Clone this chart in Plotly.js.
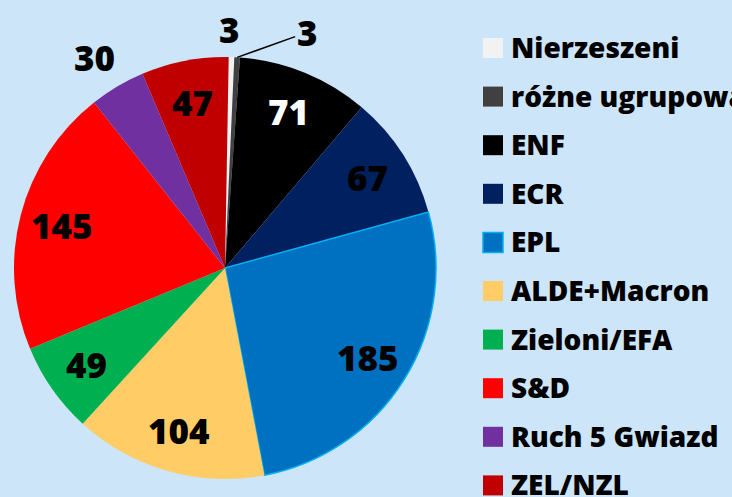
<!DOCTYPE html>
<html><head><meta charset="utf-8">
<script src="https://cdn.plot.ly/plotly-3.0.1.min.js"></script>
<style>html,body{margin:0;padding:0;background:#cce5f9;}</style>
</head><body>
<div id="chart" style="width:732px;height:497px;"></div>
<script>
const labels = ["Nierzeszeni","różne ugrupowania","ENF","ECR","EPL","ALDE+Macron","Zieloni/EFA","S&D","Ruch 5 Gwiazd","ZEL/NZL"];
const values = [3,3,71,67,185,104,49,145,30,47];
const colors = ["#f2f2f2","#404040","#000000","#002060","#0070c0","#ffcc66","#00b050","#ff0000","#7030a0","#c00000"];
const lineColors = ["#f2f2f2","#404040","#000000","#002060","#00b0f0","#ffcc66","#00b050","#ff0000","#7030a0","#c00000"];
const lineWidths = [0,0,0,0,1.5,0,0,0,0,0];
const textPositions = ["outside","outside","inside","inside","inside","inside","inside","inside","outside","inside"];
const textColors = ["#000","#000","#fff","#000","#000","#000","#000","#000","#000","#000"];

const W = 732, H = 497;
const FONT = "Open Sans, Noto Sans, sans-serif";
const ROT = 1;
// pie geometry (pixels)
const CX = 225, CY = 268, R = 211;

const trace = {
  type: "pie",
  labels: labels,
  values: values,
  sort: false,
  direction: "clockwise",
  rotation: ROT,
  marker: {colors: colors, line: {color: lineColors, width: lineWidths}},
  textinfo: "none",
  automargin: false,
  domain: {x: [(CX - R)/W, (CX + R)/W], y: [(H - CY - R)/H, (H - CY + R)/H]},
  hoverinfo: "label+value",
  showlegend: false
};

const shapes = [];
const annotations = [];

// slice value labels, placed along each slice's mid-angle
const total = values.reduce((a, b) => a + b, 0);
let cum = 0;
values.forEach((v, i) => {
  const mid = ROT + (cum + v/2) / total * 360;
  cum += v;
  const a = mid * Math.PI / 180;
  const font = {family: FONT, size: 35, color: textColors[i], weight: 800};
  if (textPositions[i] === "inside") {
    const d = 0.8 * R;
    annotations.push({xref: "paper", yref: "paper",
      x: (CX + d*Math.sin(a))/W, y: 1 - (CY - d*Math.cos(a))/H,
      xanchor: "center", yanchor: "middle", showarrow: false,
      text: String(v), font: font});
  } else if (i === 1) {
    // label moved aside with a leader line
    annotations.push({xref: "paper", yref: "paper",
      x: (CX + R*Math.sin(a))/W, y: 1 - (CY - R*Math.cos(a))/H,
      ax: 70, ay: -25, showarrow: true, arrowhead: 0, arrowwidth: 1.5,
      arrowcolor: "#000", standoff: 0,
      text: String(v), font: font});
  } else {
    const d = (i === 0 ? 1.13 : 1.16) * R;
    annotations.push({xref: "paper", yref: "paper",
      x: (CX + d*Math.sin(a))/W - (i === 0 ? 3/W : 6/W), y: 1 - (CY - d*Math.cos(a))/H,
      xanchor: "center", yanchor: "middle", showarrow: false,
      text: String(v), font: font});
  }
});

// custom legend built from labels/colors
const legTop = 48, legStep = 48.6;
labels.forEach((lab, i) => {
  const cy = legTop + i * legStep;
  shapes.push({type: "rect", xref: "paper", yref: "paper",
    x0: 483/W, x1: 503/W, y0: 1 - (cy - 10)/H, y1: 1 - (cy + 10)/H,
    fillcolor: colors[i], line: {color: lineColors[i], width: i === 4 ? 1.5 : 0}});
  annotations.push({xref: "paper", yref: "paper", x: 509/W, y: 1 - (cy - 1)/H,
    xanchor: "left", yanchor: "middle", showarrow: false, text: lab,
    font: {family: FONT, size: 28, color: "#000", weight: 800}});
});

const layout = {
  width: W, height: H,
  margin: {l: 0, r: 0, t: 0, b: 0},
  paper_bgcolor: "#cce5f9",
  plot_bgcolor: "#cce5f9",
  showlegend: false,
  shapes: shapes,
  annotations: annotations
};
Plotly.newPlot("chart", [trace], layout, {displayModeBar: false, staticPlot: true});
</script>
</body></html>
